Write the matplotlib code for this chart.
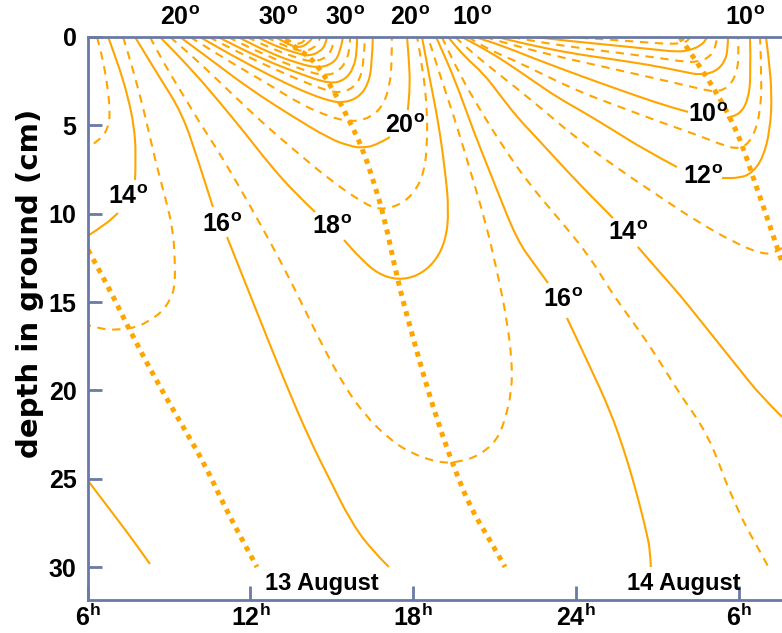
import numpy as np
import matplotlib
matplotlib.use("Agg")
import matplotlib.pyplot as plt
from matplotlib.path import Path
from matplotlib.patches import PathPatch

nan = float("nan")

# isotherms: hour (0 = 13 Aug 0h) and depth in cm
# nan marks the gap where a line is cut for its label
t5_hour = [23.59, 24.88, 26.35, 27.45, 27.93, 28.15, 28.19]
t5_depth = [0, 0.11, 0.28, 0.40, 0.34, 0.17, 0]
t6_hour = [22.48, 23.77, 25.24, 26.72, 27.75, 28.19, 28.56, 28.78, 28.82]
t6_depth = [0, 0.23, 0.45, 0.68, 0.85, 0.74, 0.51, 0.17, 0]
t7_hour = [21.63, 22.85, 24.14, 25.61, 27.09, 28.0, 28.48, 28.93, 29.15, 29.18]
t7_depth = [0, 0.34, 0.62, 0.91, 1.19, 1.41, 1.41, 1.13, 0.57, 0]
t8_hour = [21.08, 22.30, 23.77, 25.24, 26.72, 28.0, 28.56, 29.11, 29.48, 29.59, 29.59]
t8_depth = [0, 0.45, 0.91, 1.24, 1.58, 1.98, 2.15, 1.98, 1.41, 0.62, 0]
t9_hour = [20.64, 21.93, 23.40, 24.88, 26.35, 27.82, 28.74, 29.22, 29.66, 29.92, 29.99, 29.96]
t9_depth = [0, 0.57, 1.13, 1.64, 2.15, 2.66, 3.00, 3.11, 2.77, 1.98, 1.02, 0]
t10_hour = [20.27, 21.19, 22.41, 23.77, 24.88, 26.35, 27.45, 28.12, nan,
            29.55, 30.03, 30.33, 30.44, 30.40]
t10_depth = [0, 0.45, 1.19, 1.98, 2.60, 3.40, 3.96, 4.24, nan,
             4.58, 4.36, 3.57, 2.15, 0]
t11_hour = [20.01, 20.82, 21.93, 23.95, 25.61, 27.09, 28.56, 29.48, 30.03,
            30.47, 30.77, 30.84, 30.77]
t11_depth = [0, 0.74, 1.47, 3.00, 3.96, 4.81, 5.60, 6.17, 6.34, 5.83, 4.41, 2.43, 0]
t12_hour = [19.79, 20.82, 21.56, 22.48, 23.29, 24.32, 25.35, 26.53, 27.71, nan,
            29.37, 30.03, 30.47, 30.88, 31.14, 31.21, 31.10, 30.99]
t12_depth = [0, 0.85, 1.58, 2.55, 3.40, 4.30, 5.26, 6.39, 7.36, nan,
             7.98, 7.98, 7.70, 6.85, 5.26, 3.28, 1.30, 0]
t13_left_hour = [6.35, 6.57, 6.76, 6.83, 6.76, 6.46, 6.0]
t13_left_depth = [0, 1.30, 3.0, 4.41, 5.15, 5.83, 6.28]
t13_right_hour = [19.54, 20.27, 21.19, 22.48, 23.95, 25.61, 27.09, 28.37, 29.85,
                  30.84, 31.32, 31.58]
t13_right_depth = [0, 1.02, 2.15, 3.73, 5.66, 7.53, 9.05, 10.36, 11.66,
                   12.28, 12.22, 11.94]
t14_left_hour = [6.76, 7.20, 7.49, 7.71, 7.79, 7.75, nan, 7.12, 6.64, 6.0]
t14_left_depth = [0, 1.87, 3.40, 4.98, 6.68, 8.09, nan, 9.96, 10.64, 11.26]
t14_right_hour = [19.28, 19.90, 20.57, 21.19, 21.82, 22.55, 23.29, 24.32, 25.35, nan,
                  26.27, 27.01, 27.82, 28.56, 30.03, 30.77, 31.58]
t14_right_depth = [0, 1.13, 2.04, 3.28, 4.53, 5.72, 6.96, 8.66, 10.24, nan,
                   11.88, 13.19, 14.60, 16.02, 18.84, 20.26, 21.50]
t15_left_hour = [7.31, 7.68, 8.12, 8.49, 8.89, 9.15, 9.22, 9.22, 9.04, 8.74, 8.30,
                 7.86, 7.12, 6.46, 6.0]
t15_left_depth = [0, 1.87, 4.41, 6.96, 9.23, 10.92, 12.62, 14.15, 14.88, 15.56, 16.02,
                  16.41, 16.58, 16.52, 16.30]
t15_right_hour = [19.05, 19.72, 20.46, 21.38, 22.30, 23.40, 24.51, 25.24, 25.98, 26.64,
                  27.27, 27.89, 28.44, 28.85, 29.22, 29.48, 29.85, 30.22, 30.70, 31.14]
t15_right_depth = [0, 2.15, 4.13, 6.39, 8.38, 10.36, 12.45, 14.32, 15.90, 17.32,
                   18.84, 20.37, 21.56, 22.64, 23.94, 25.07, 26.37, 27.62, 28.92, 30.16]
t16_left_hour = [7.75, 8.60, 9.48, 10.07, 10.62, nan, 11.14, 12.21, 13.24, 14.19,
                 14.93, 15.67, 16.40, 17.10]
t16_left_depth = [0, 2.15, 4.30, 6.96, 9.62, nan, 11.32, 15.45, 19.41, 22.81,
                  25.07, 27.33, 28.92, 29.99]
t16_deep_hour = [6.0, 6.64, 7.20, 7.75, 8.30]
t16_deep_depth = [25.07, 26.37, 27.50, 28.63, 29.82]
t16_right_hour = [18.84, 19.54, 20.20, 21.01, 21.82, 22.48, 22.96, nan, 23.66, 24.51,
                  25.24, 25.76, 26.09, 26.39, 26.61, 26.72, 26.75]
t16_right_depth = [0, 2.43, 5.26, 8.38, 11.49, 12.90, 13.92, nan, 15.90, 18.67,
                   21.11, 23.37, 25.07, 26.77, 28.18, 29.03, 29.99]
t17_hour = [8.30, 8.85, 9.52, 10.14, 10.77, 11.62, 12.28, 13.09, 13.83, 14.64, 15.48,
            16.22, 17.03, 17.88, 18.98, 19.72, 20.46, 21.08, 21.38, 21.63, 21.63,
            21.45, 21.08, 20.64, 20.09, 19.54, 18.98, 18.54]
t17_depth = [0, 1.58, 3.28, 4.87, 6.34, 8.55, 10.36, 12.62, 14.88, 17.43, 19.81,
             21.39, 22.64, 23.54, 24.11, 24.05, 23.65, 22.81, 21.67, 19.98, 18.28,
             16.02, 13.19, 10.36, 7.53, 4.70, 2.15, 0]
t18_hour = [8.67, 9.78, 10.77, 11.80, 12.72, 13.64, 14.38, nan, 15.45, 16.04, 16.70,
            17.44, 18.17, 18.80, 19.20, 19.31, 19.17, 18.91, 18.61, 18.32]
t18_depth = [0, 1.75, 3.51, 5.43, 7.24, 8.83, 9.90, nan, 11.49, 12.51, 13.41,
             13.75, 13.52, 12.73, 11.49, 9.79, 7.53, 4.70, 2.43, 0]
t19_hour = [9.04, 10.14, 11.36, 12.54, 13.57, 14.93, 16.15, 16.77, 17.51, 18.06,
            18.40, 18.51, 18.51, 18.36, 18.14]
t19_depth = [0, 1.47, 3.28, 4.98, 6.34, 8.09, 9.39, 9.79, 9.51, 8.77,
             7.64, 6.11, 4.13, 1.87, 0]
t20_hour = [9.41, 10.70, 11.98, 13.46, 14.93, 15.67, 16.11, 16.66, 17.14, nan,
            17.80, 17.88, 17.84, 17.77]
t20_depth = [0, 1.47, 2.94, 4.41, 5.77, 6.17, 6.28, 6.11, 5.66, nan,
             4.13, 2.72, 1.30, 0]
t21_hour = [9.78, 11.25, 12.72, 13.83, 14.93, 15.74, 16.40, 16.88, 17.14, 17.21, 17.21]
t21_depth = [0, 1.41, 2.72, 3.79, 4.53, 4.81, 4.58, 3.90, 2.72, 1.30, 0]
t22_hour = [10.14, 11.62, 13.20, 14.19, 14.93, 15.41, 15.96, 16.33, 16.48, 16.51]
t22_depth = [0, 1.30, 2.55, 3.23, 3.62, 3.73, 3.45, 2.72, 1.58, 0]
t23_hour = [10.47, 11.98, 13.72, 14.56, 15.15, 15.67, 16.04, 16.18, 16.22]
t23_depth = [0, 1.19, 2.38, 2.89, 3.17, 3.0, 2.43, 1.30, 0]
t24_hour = [10.81, 12.35, 13.83, 14.93, 15.48, 15.81, 15.93, 15.93]
t24_depth = [0, 1.19, 2.09, 2.66, 2.43, 1.75, 0.74, 0]
t25_hour = [11.17, 12.54, 13.83, 14.71, 15.23, 15.56, 15.67, 15.67]
t25_depth = [0, 1.02, 1.81, 2.21, 1.98, 1.30, 0.45, 0]
t26_hour = [11.54, 12.72, 13.83, 14.49, 15.01, 15.30, 15.41]
t26_depth = [0, 0.91, 1.53, 1.75, 1.53, 0.96, 0]
t27_hour = [11.87, 12.91, 13.83, 14.31, 14.78, 15.04, 15.12]
t27_depth = [0, 0.74, 1.24, 1.41, 1.19, 0.62, 0]
t28_hour = [12.24, 13.09, 13.83, 14.12, 14.56, 14.78, 14.82]
t28_depth = [0, 0.62, 0.96, 1.08, 0.85, 0.40, 0]
t29_hour = [12.57, 13.27, 13.94, 14.34, 14.53, 14.56]
t29_depth = [0, 0.51, 0.85, 0.62, 0.28, 0]
t30_hour = [12.91, 13.46, 13.75, 14.12, 14.31]
t30_depth = [0, 0.45, 0.62, 0.40, 0]
t31_hour = [13.24, 13.57, 13.83, 14.01, 14.05]
t31_depth = [0, 0.34, 0.40, 0.17, 0]

# lines of maximum / minimum temperature moving down into the ground
max_line_hour = [13.27, 13.83, 14.38, 15.04, 15.67, 16.15, 16.52, 16.96, 17.40, 17.88,
                 18.50, 19.09, 19.54, 20.09, 20.82, 21.38]
max_line_depth = [0.17, 0.74, 1.41, 2.94, 4.81, 6.39, 8.09, 10.36, 13.64, 16.41,
                  19.81, 22.64, 24.50, 26.60, 28.47, 29.99]
min_line1_hour = [6.02, 6.83, 7.49, 8.52, 9.59, 10.33, 11.06, 11.80, 12.24]
min_line1_depth = [12.05, 14.32, 16.41, 19.41, 22.24, 24.22, 26.60, 28.75, 29.99]
min_line2_hour = [27.82, 28.56, 29.18, 29.77, 30.14, 30.51, 31.03, 31.58]
min_line2_depth = [0, 1.70, 3.17, 4.87, 6.22, 7.92, 10.19, 12.73]

label_temp = ["14", "16", "18", "20", "10", "12", "14", "16"]
label_hour = [7.49, 10.95, 15.0, 17.69, 28.85, 28.67, 25.91, 23.51]
label_depth = [9.05, 10.64, 10.75, 5.04, 4.41, 7.92, 11.09, 14.88]

surface_temp = ["20", "30", "30", "20", "10", "10"]
surface_hour = [9.41, 13.02, 15.48, 17.88, 20.16, 30.22]

tick_hours = [6, 12, 18, 24, 30]
tick_names = ["6", "12", "18", "24", "6"]
depth_ticks = [0, 5, 10, 15, 20, 25, 30]

isotherms = [
    (5, t5_hour, t5_depth), (6, t6_hour, t6_depth), (7, t7_hour, t7_depth),
    (8, t8_hour, t8_depth), (9, t9_hour, t9_depth), (10, t10_hour, t10_depth),
    (11, t11_hour, t11_depth), (12, t12_hour, t12_depth),
    (13, t13_left_hour, t13_left_depth), (13, t13_right_hour, t13_right_depth),
    (14, t14_left_hour, t14_left_depth), (14, t14_right_hour, t14_right_depth),
    (15, t15_left_hour, t15_left_depth), (15, t15_right_hour, t15_right_depth),
    (16, t16_left_hour, t16_left_depth), (16, t16_deep_hour, t16_deep_depth),
    (16, t16_right_hour, t16_right_depth),
    (17, t17_hour, t17_depth), (18, t18_hour, t18_depth), (19, t19_hour, t19_depth),
    (20, t20_hour, t20_depth), (21, t21_hour, t21_depth), (22, t22_hour, t22_depth),
    (23, t23_hour, t23_depth), (24, t24_hour, t24_depth), (25, t25_hour, t25_depth),
    (26, t26_hour, t26_depth), (27, t27_hour, t27_depth), (28, t28_hour, t28_depth),
    (29, t29_hour, t29_depth), (30, t30_hour, t30_depth), (31, t31_hour, t31_depth),
]

ORANGE = "#ffa500"
FRAME = "#6a7aa6"


def smooth_draw(ax, hrs, dep, **kw):
    # the read points act as quadratic bezier control points, cut at the nan gaps
    pts = np.column_stack([hrs, dep]).astype(float)
    breaks = np.where(np.isnan(pts[:, 0]))[0]
    for seg in np.split(pts, breaks):
        seg = seg[~np.isnan(seg[:, 0])]
        if len(seg) < 2:
            continue
        verts = [seg[0]]
        codes = [Path.MOVETO]
        if len(seg) > 2:
            verts.append((seg[0] + seg[1]) / 2)
            codes.append(Path.LINETO)
            for i in range(1, len(seg) - 1):
                end = (seg[i] + seg[i + 1]) / 2 if i < len(seg) - 2 else seg[i + 1]
                verts += [seg[i], end]
                codes += [Path.CURVE3, Path.CURVE3]
        else:
            verts.append(seg[1])
            codes.append(Path.LINETO)
        ax.add_patch(PathPatch(Path(verts, codes), fill=False, edgecolor=ORANGE,
                               capstyle="butt", joinstyle="round", **kw))


plt.rcParams["mathtext.fontset"] = "custom"
plt.rcParams["mathtext.rm"] = "Liberation Sans"
plt.rcParams["mathtext.bf"] = "Liberation Sans:bold"

fig = plt.figure(figsize=(7.82, 6.33), dpi=100)
ax = fig.add_axes([87.5 / 782, 1 - 600 / 633, 1 - 87.5 / 782, 563 / 633])

for temp, hrs, dep in isotherms:
    if temp % 2 == 0:
        smooth_draw(ax, hrs, dep, lw=1.5)
    else:
        smooth_draw(ax, hrs, dep, lw=1.5, linestyle=(0, (4, 3.2)))

for hrs, dep in [(max_line_hour, max_line_depth), (min_line1_hour, min_line1_depth),
                 (min_line2_hour, min_line2_depth)]:
    smooth_draw(ax, hrs, dep, lw=3.6, linestyle=(0, (1, 1.1)))

for t, h, d in zip(label_temp, label_hour, label_depth):
    ax.text(h, d, t + r"$^{\mathbf{o}}$", ha="center", va="center", fontsize=18,
            fontweight="bold", family="Liberation Sans")
for t, h in zip(surface_temp, surface_hour):
    ax.text(h, -1.1, t + r"$^{\mathbf{o}}$", ha="center", va="center", fontsize=18,
            fontweight="bold", family="Liberation Sans", clip_on=False)

ax.text(14.64, 30.9, "13 August", ha="center", va="center", fontsize=17,
        fontweight="bold", family="Liberation Sans")
ax.text(27.97, 30.9, "14 August", ha="center", va="center", fontsize=17,
        fontweight="bold", family="Liberation Sans")

ax.set_xlim(6, 31.58)
ax.set_ylim(31.86, 0)
ax.set_xticks(tick_hours)
ax.set_xticklabels([n + r"$^{\mathbf{h}}$" for n in tick_names])
ax.set_yticks(depth_ticks)
ax.set_yticklabels([str(d) for d in depth_ticks])
ax.tick_params(direction="in", length=10, width=2, color=FRAME, labelsize=18)
ax.tick_params(axis="x", pad=3)
ax.tick_params(axis="y", pad=8)
for lab in ax.get_xticklabels() + ax.get_yticklabels():
    lab.set_fontweight("bold")
    lab.set_family("Liberation Sans")
ax.yaxis.get_major_ticks()[1].tick1line.set_color(ORANGE)

for side in ["top", "left", "bottom"]:
    ax.spines[side].set_color(FRAME)
    ax.spines[side].set_linewidth(2)
ax.spines["right"].set_visible(False)

fig.text(30 / 782, 1 - 283 / 633, "depth in ground (cm)", rotation=90, ha="center",
         va="center", fontsize=21, fontweight="bold")

plt.savefig("out.png", dpi=100)
